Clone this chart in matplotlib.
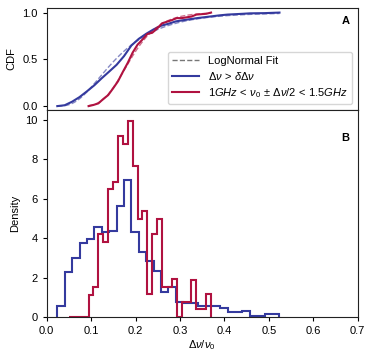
import math
import numpy as np
import matplotlib
matplotlib.use('Agg')
import matplotlib.pyplot as plt
from matplotlib.lines import Line2D

plt.rcParams['font.family'] = ['Liberation Sans', 'DejaVu Sans']
plt.rcParams['mathtext.fontset'] = 'custom'
plt.rcParams['mathtext.rm'] = 'Liberation Sans'
plt.rcParams['mathtext.it'] = 'Liberation Sans:italic'
plt.rcParams['mathtext.bf'] = 'Liberation Sans:bold'

# --- DATA ---
# bandwidth sample: 30 bins between these edges
blue_range = (0.024, 0.524)
blue_density = [0.57, 2.31, 2.99, 3.75, 3.95, 4.59, 4.31, 4.39, 5.64, 6.96,
                4.34, 3.29, 2.87, 2.36, 1.30, 1.55, 0.79, 0.71, 0.71, 0.59,
                0.59, 0.59, 0.46, 0.25, 0.25, 0.30, 0.07, 0.07, 0.18, 0.18]

# 1-1.5 GHz sample: 29 bins
red_range = (0.0503, 0.370)
red_density = [0.0, 0.0, 0.0, 0.0, 1.13, 1.52, 4.22, 3.83, 6.50, 6.87,
               9.19, 8.78, 9.95, 7.67, 4.97, 5.40, 1.17, 4.20, 4.98, 1.55,
               1.55, 1.94, 0.0, 0.76, 0.76, 1.89, 0.40, 0.40, 1.17]

labels = [r'$\Delta\nu\,>\,\delta\Delta\nu$',
          r'$1GHz\,<\,\nu_0\,\pm\,\Delta\nu/2\,<\,1.5GHz$']
BLUE = '#343a9e'
RED = '#b01240'
colors = [BLUE, RED]


def edges_of(rng, dens):
    return np.linspace(rng[0], rng[1], len(dens) + 1)


def cdf_from_hist(edges, dens):
    dens = np.asarray(dens)
    cum = np.concatenate([[0.0], np.cumsum(dens * np.diff(edges))])
    cum = cum / cum[-1]
    first = np.argmax(cum > 0) - 1  # drop leading empty bins
    return edges[first:], cum[first:]


def lognormal_cdf(x, edges, dens):
    centers = 0.5 * (edges[1:] + edges[:-1])
    w = np.asarray(dens) * np.diff(edges)
    w = w / w.sum()
    mu = np.sum(w * np.log(centers))
    sig = np.sqrt(np.sum(w * (np.log(centers) - mu) ** 2))
    z = (np.log(x) - mu) / (sig * math.sqrt(2))
    return 0.5 * (1 + np.array([math.erf(v) for v in z]))


fig = plt.figure(figsize=(3.73, 3.59), dpi=100)
ax_a = fig.add_axes([0.125, 0.694, 0.834, 0.284])
ax_b = fig.add_axes([0.125, 0.116, 0.834, 0.578], sharex=ax_a)

for rng, dens, c in zip([blue_range, red_range], [blue_density, red_density], colors):
    e = edges_of(rng, dens)
    ex, cy = cdf_from_hist(e, dens)
    ax_a.plot(ex, cy, color=c, lw=1.5)
    xs = np.linspace(ex[0], ex[-1], 200)
    ax_a.plot(xs, lognormal_cdf(xs, e, dens), color=c, lw=1.0, ls='--', alpha=0.6)
    ax_b.stairs(dens, e, color=c, lw=1.5)

handles = [Line2D([], [], color='#777777', ls='--', lw=1.0),
           Line2D([], [], color=BLUE, lw=1.5),
           Line2D([], [], color=RED, lw=1.5)]
ax_a.legend(handles, ['LogNormal Fit'] + labels, loc='lower right', fontsize=8,
            frameon=True, edgecolor='#cccccc', handlelength=2.4, borderaxespad=0.5,
            labelspacing=0.35)

ax_a.set_ylim(-0.04, 1.05)
ax_a.set_yticks([0.0, 0.5, 1.0])
ax_a.set_ylabel('CDF', fontsize=8)
ax_a.tick_params(axis='x', which='both', bottom=False, labelbottom=False)
ax_a.text(0.96, 0.875, 'A', transform=ax_a.transAxes, ha='center', va='center',
          fontweight='bold', fontsize=8)

ax_b.set_xlim(0, 0.7)
ax_b.set_ylim(0, 10.5)
ax_b.set_xticks(np.arange(0, 0.71, 0.1))
ax_b.set_yticks(np.arange(0, 11, 2))
ax_b.set_xlabel(r'$\Delta\nu/\nu_0$', fontsize=8, labelpad=1)
ax_b.set_ylabel('Density', fontsize=8)
ax_b.text(0.96, 0.865, 'B', transform=ax_b.transAxes, ha='center', va='center',
          fontweight='bold', fontsize=8)

for ax in (ax_a, ax_b):
    ax.tick_params(labelsize=8, length=3, width=0.8)
    for s in ax.spines.values():
        s.set_color('#222222')
        s.set_linewidth(0.8)

fig.savefig('out.png', dpi=100)
